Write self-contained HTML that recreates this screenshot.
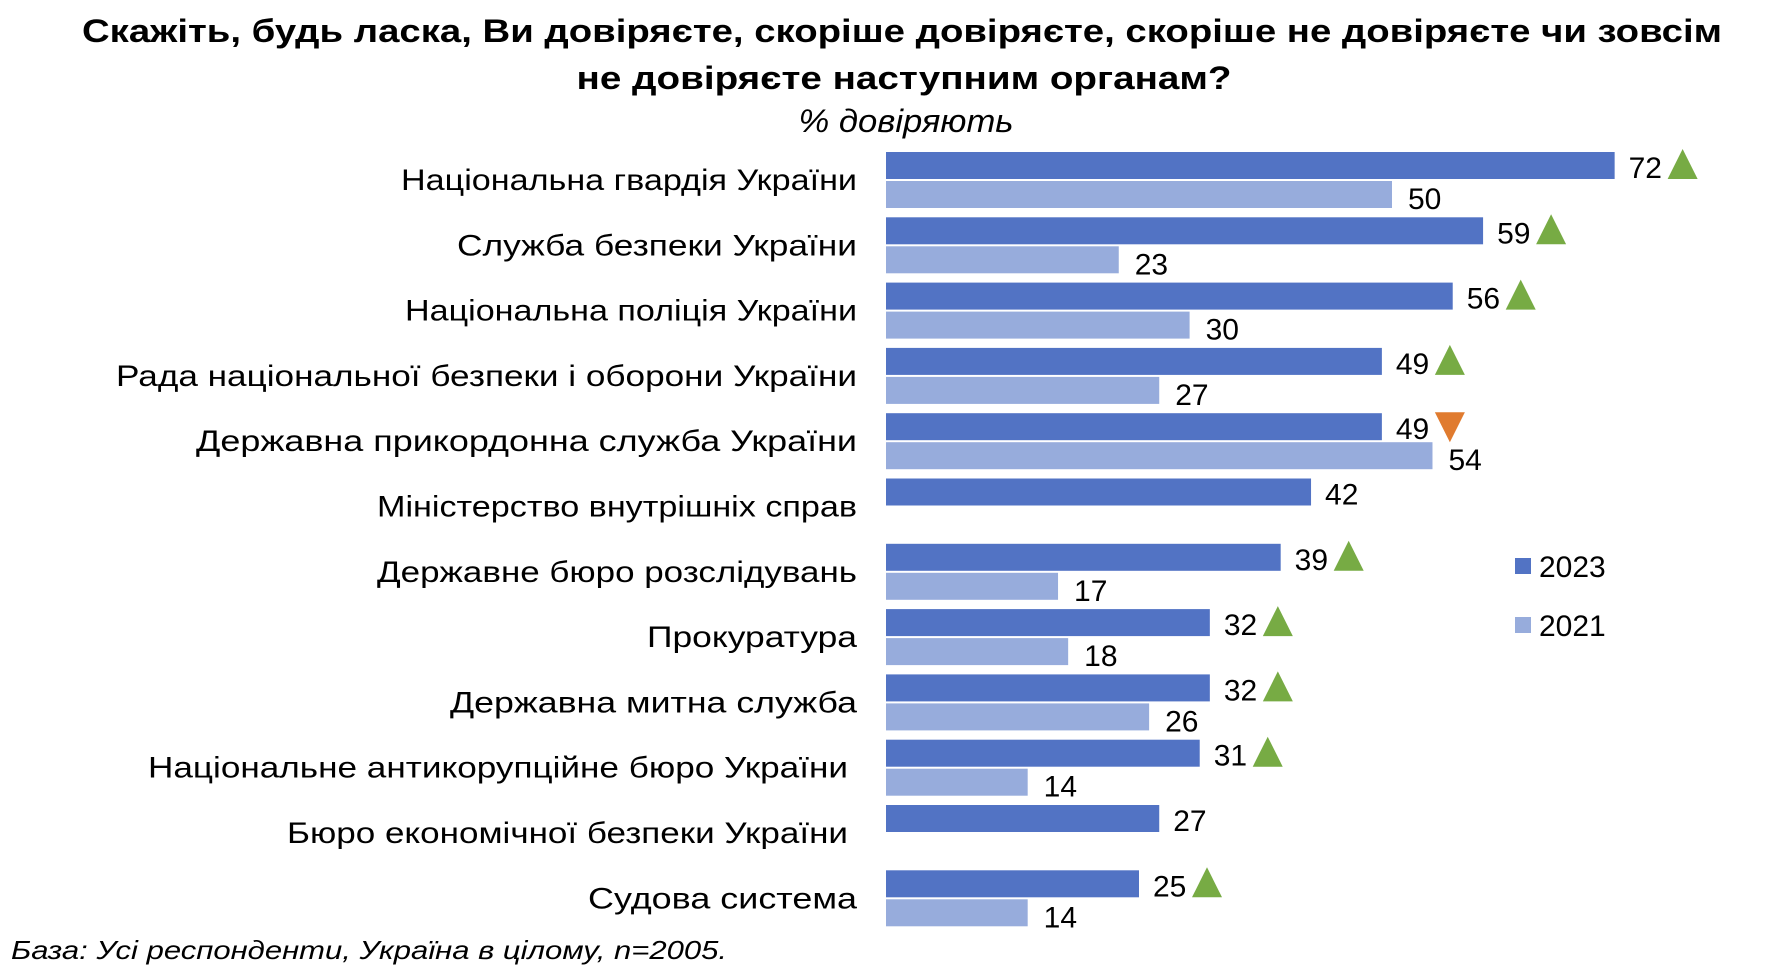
<!DOCTYPE html>
<html><head><meta charset="utf-8">
<style>
html,body{margin:0;padding:0;background:#fff;}
svg{display:block;font-family:"Liberation Sans","DejaVu Sans",sans-serif;}
</style></head>
<body>
<svg id="chart" width="1778" height="970" viewBox="0 0 1778 970" xmlns="http://www.w3.org/2000/svg">
  <text x="902" y="42" text-anchor="middle" font-size="32" font-weight="bold" fill="#000" textLength="1640" lengthAdjust="spacingAndGlyphs">Скажіть, будь ласка, Ви довіряєте, скоріше довіряєте, скоріше не довіряєте чи зовсім</text>
  <text x="904" y="89" text-anchor="middle" font-size="32" font-weight="bold" fill="#000" textLength="655" lengthAdjust="spacingAndGlyphs">не довіряєте наступним органам?</text>
  <text x="906" y="132" text-anchor="middle" font-size="32" font-style="italic" fill="#000" textLength="215" lengthAdjust="spacingAndGlyphs">% довіряють</text>
  <g id="bars"></g>
  <g>
    <rect x="1515" y="558" width="16" height="16" fill="#5273c4"/>
    <text x="1539" y="577" font-size="30" fill="#000">2023</text>
    <rect x="1515" y="617" width="16" height="16" fill="#97acdc"/>
    <text x="1539" y="636" font-size="30" fill="#000">2021</text>
  </g>
  <text x="11" y="959" font-size="26" font-style="italic" fill="#000" textLength="716" lengthAdjust="spacingAndGlyphs">База: Усі респонденти, Україна в цілому, n=2005.</text>
</svg>
<script>
const categories = ["Національна гвардія України","Служба безпеки України","Національна поліція України","Рада національної безпеки і оборони України","Державна прикордонна служба України","Міністерство внутрішніх справ","Державне бюро розслідувань","Прокуратура","Державна митна служба","Національне антикорупційне бюро України","Бюро економічної безпеки України","Судова система"];
const values2023 = [72,59,56,49,49,42,39,32,32,31,27,25];
const values2021 = [50,23,30,27,54,null,17,18,26,14,null,14];
const changeMarks = ["up","up","up","up","down",null,"up","up","up","up",null,"up"];

const NS = "http://www.w3.org/2000/svg";
const g = document.getElementById("bars");
const x0 = 886, pxPerUnit = 10.12, top0 = 152, pitch = 65.3, bh = 27, gap = 2;
const xScale = v => v * pxPerUnit;
const yRow = i => top0 + pitch * i;
// label layout (left edge / right edge in px) – styling only
const labelLeft = [401,457,405,116,196,377,377,647,450,148,287,588];
const labelRight = [857,857,857,857,857,857,857,857,857,848,848,857];

function mk(tag, attrs){ const e=document.createElementNS(NS,tag); for(const k in attrs) e.setAttribute(k,attrs[k]); return e; }

categories.forEach((cat, i) => {
  const y = yRow(i);
  const lbl = mk("text",{x:labelRight[i],y:y+bh+11,"text-anchor":"end","font-size":30,fill:"#000",textLength:labelRight[i]-labelLeft[i],lengthAdjust:"spacingAndGlyphs"});
  
  
  lbl.textContent = cat;
  g.appendChild(lbl);

  const v1 = values2023[i];
  const w1 = xScale(v1);
  const b1 = mk("rect",{x:x0,y:y,width:w1,height:bh,fill:"#5273c4"});
  
  
  g.appendChild(b1);
  const t1 = mk("text",{x:x0+w1+14,y:y+bh-1,"font-size":30,fill:"#000"});
  
  
  t1.textContent = v1;
  g.appendChild(t1);

  const m = changeMarks[i];
  if (m) {
    const tx = x0 + w1 + 14 + 54;
    let pts;
    if (m === "up") pts = `${tx},${y-3} ${tx+15},${y+27} ${tx-15},${y+27}`;
    else pts = `${tx-15},${y-1} ${tx+15},${y-1} ${tx},${y+29}`;
    const tri = mk("polygon",{points:pts,fill: m==="up" ? "#77ab44" : "#e07b2f"});
    
    
    g.appendChild(tri);
  }

  const v2 = values2021[i];
  if (v2 !== null) {
    const y2 = y + bh + gap;
    const w2 = xScale(v2);
    const b2 = mk("rect",{x:x0,y:y2,width:w2,height:bh,fill:"#97acdc"});
    
    
    g.appendChild(b2);
    const t2 = mk("text",{x:x0+w2+16,y:y2+bh+1,"font-size":30,fill:"#000"});
    
    
    t2.textContent = v2;
    g.appendChild(t2);
  }
});
</script>
</body></html>
